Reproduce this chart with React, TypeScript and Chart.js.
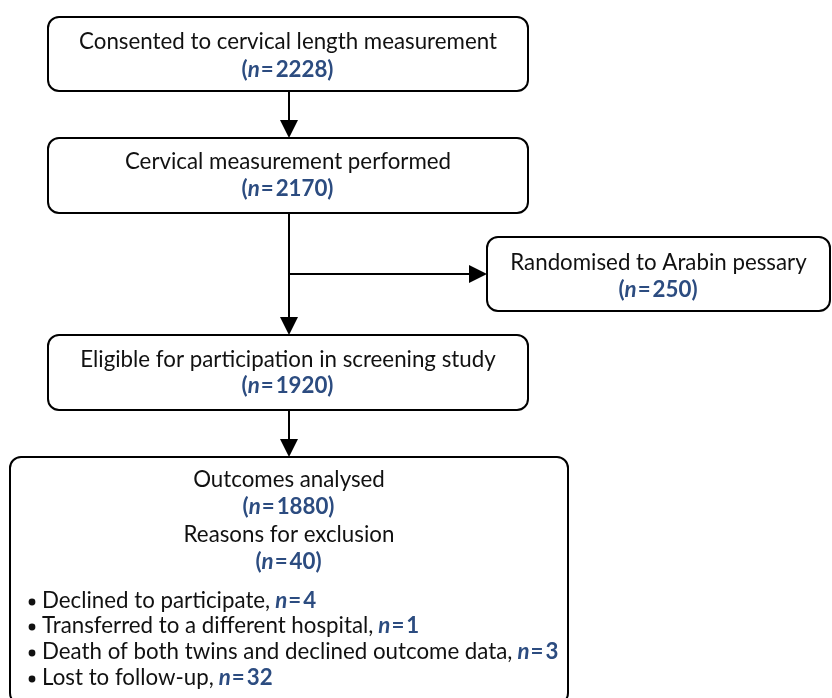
import React, { useEffect, useRef } from "react";
import { Chart, registerables } from "chart.js";

Chart.register(...registerables);

// ---- data ----
const stageLabels = [
  "Consented to cervical length measurement",
  "Cervical measurement performed",
  "Randomised to Arabin pessary",
  "Eligible for participation in screening study",
  "Outcomes analysed",
];
const stageCounts = [2228, 2170, 250, 1920, 1880];
const exclusionTitle = "Reasons for exclusion";
const exclusionTotal = 40;
const exclusionReasons = [
  "Declined to participate,",
  "Transferred to a different hospital,",
  "Death of both twins and declined outcome data,",
  "Lost to follow-up,",
];
const exclusionCounts = [4, 1, 3, 32];

// ---- layout (chart value space = pixels) ----
const W = 832;
const H = 698;
const BOXES = [
  { x0: 48, y0: 17, x1: 528, y1: 91, ty: [42, 70] },
  { x0: 48, y0: 138, x1: 528, y1: 213, ty: [162, 189] },
  { x0: 487, y0: 237, x1: 830, y1: 311, ty: [263, 290] },
  { x0: 48, y0: 335, x1: 528, y1: 410, ty: [360, 386] },
  { x0: 10, y0: 457, x1: 568, y1: 704, ty: [480, 507] },
];
const EXCL_TY = [535, 562];
const BULLET_Y = [601, 626, 652, 678];
const BULLET_X = 32;
const SPINE_X = 289;
const BRANCH_Y = 274;

const BLUE = "#2c4c80";
const FONT = "Lato, 'Open Sans', sans-serif";
const FS = 22.3;

function drawCount(ctx: CanvasRenderingContext2D, n: number, cx: number | null, leftX: number | null, y: number, paren: boolean) {
  const segs: { t: string; f: string; gap?: number }[] = [];
  if (paren) segs.push({ t: "(", f: `bold ${FS}px ${FONT}` });
  segs.push({ t: "n", f: `italic bold ${FS}px ${FONT}` });
  segs.push({ t: "=", f: `bold ${FS}px ${FONT}`, gap: 1 });
  segs.push({ t: String(n) + (paren ? ")" : ""), f: `bold ${FS}px ${FONT}`, gap: 1 });
  let total = 0;
  const widths: number[] = [];
  segs.forEach((s) => {
    ctx.font = s.f;
    const w = ctx.measureText(s.t).width;
    widths.push(w);
    total += w + (s.gap || 0) * 2;
  });
  let x = cx !== null ? cx - total / 2 : (leftX as number);
  ctx.fillStyle = BLUE;
  ctx.textAlign = "left";
  ctx.textBaseline = "middle";
  segs.forEach((s, i) => {
    ctx.font = s.f;
    x += s.gap || 0;
    ctx.fillText(s.t, x, y);
    x += widths[i] + (s.gap || 0);
  });
  return x;
}

function roundRect(ctx: CanvasRenderingContext2D, x0: number, y0: number, x1: number, y1: number, r: number) {
  ctx.beginPath();
  ctx.moveTo(x0 + r, y0);
  ctx.lineTo(x1 - r, y0);
  ctx.arcTo(x1, y0, x1, y0 + r, r);
  ctx.lineTo(x1, y1 - r);
  ctx.arcTo(x1, y1, x1 - r, y1, r);
  ctx.lineTo(x0 + r, y1);
  ctx.arcTo(x0, y1, x0, y1 - r, r);
  ctx.lineTo(x0, y0 + r);
  ctx.arcTo(x0, y0, x0 + r, y0, r);
  ctx.closePath();
  ctx.stroke();
}

const flowPlugin = {
  id: "flow",
  afterDraw(chart: any) {
    const ctx: CanvasRenderingContext2D = chart.ctx;
    const sx = chart.scales.x;
    const sy = chart.scales.y;
    const px = (v: number) => sx.getPixelForValue(v);
    const py = (v: number) => sy.getPixelForValue(v);
    ctx.save();
    ctx.strokeStyle = "#000";
    ctx.lineWidth = 2;

    BOXES.forEach((b, i) => {
      roundRect(ctx, px(b.x0), py(b.y0), px(b.x1), py(b.y1), 11);
      const cx = px((b.x0 + b.x1) / 2);
      ctx.fillStyle = "#111";
      ctx.font = `${FS}px ${FONT}`;
      ctx.textAlign = "center";
      ctx.textBaseline = "middle";
      ctx.fillText(stageLabels[i], cx, py(b.ty[0]));
      drawCount(ctx, stageCounts[i], cx, null, py(b.ty[1]), true);
    });

    const last = BOXES[BOXES.length - 1];
    const lcx = px((last.x0 + last.x1) / 2);
    ctx.fillStyle = "#111";
    ctx.font = `${FS}px ${FONT}`;
    ctx.textAlign = "center";
    ctx.textBaseline = "middle";
    ctx.fillText(exclusionTitle, lcx, py(EXCL_TY[0]));
    drawCount(ctx, exclusionTotal, lcx, null, py(EXCL_TY[1]), true);

    exclusionReasons.forEach((r, i) => {
      const y = py(BULLET_Y[i]);
      ctx.fillStyle = "#111";
      ctx.beginPath();
      ctx.arc(px(BULLET_X), y + 1, 3.4, 0, Math.PI * 2);
      ctx.fill();
      ctx.font = `${FS}px ${FONT}`;
      ctx.textAlign = "left";
      ctx.textBaseline = "middle";
      const tx = px(BULLET_X + 10);
      ctx.fillText(r, tx, y);
      const w = ctx.measureText(r).width;
      drawCount(ctx, exclusionCounts[i], null, tx + w + 5, y, false);
    });

    const arrowDown = (x: number, yA: number, yB: number) => {
      ctx.beginPath();
      ctx.moveTo(px(x), py(yA));
      ctx.lineTo(px(x), py(yB) - 14);
      ctx.stroke();
      ctx.fillStyle = "#000";
      ctx.beginPath();
      ctx.moveTo(px(x), py(yB));
      ctx.lineTo(px(x) - 9, py(yB) - 18);
      ctx.lineTo(px(x) + 9, py(yB) - 18);
      ctx.closePath();
      ctx.fill();
    };
    arrowDown(SPINE_X, BOXES[0].y1, BOXES[1].y0);
    arrowDown(SPINE_X, BOXES[1].y1, BOXES[3].y0);
    arrowDown(SPINE_X, BOXES[3].y1, BOXES[4].y0);

    ctx.beginPath();
    ctx.moveTo(px(SPINE_X), py(BRANCH_Y));
    ctx.lineTo(px(BOXES[2].x0) - 14, py(BRANCH_Y));
    ctx.stroke();
    ctx.fillStyle = "#000";
    ctx.beginPath();
    ctx.moveTo(px(BOXES[2].x0), py(BRANCH_Y));
    ctx.lineTo(px(BOXES[2].x0) - 18, py(BRANCH_Y) - 9);
    ctx.lineTo(px(BOXES[2].x0) - 18, py(BRANCH_Y) + 9);
    ctx.closePath();
    ctx.fill();

    ctx.restore();
  },
};

export default function App() {
  const ref = useRef<HTMLCanvasElement>(null);
  useEffect(() => {
    document.body.style.margin = "0";
    const chart = new Chart(ref.current as HTMLCanvasElement, {
      type: "scatter",
      data: { datasets: [{ data: [], pointRadius: 0 }] },
      options: {
        animation: false,
        responsive: false,
        maintainAspectRatio: false,
        layout: { padding: 0 },
        plugins: { legend: { display: false }, tooltip: { enabled: false } },
        scales: {
          x: { type: "linear", min: 0, max: W, display: false },
          y: { type: "linear", min: 0, max: H, reverse: true, display: false },
        },
      },
      plugins: [flowPlugin],
    });
    return () => chart.destroy();
  }, []);
  return (
    <div style={{ width: W, height: H, background: "#fff" }}>
      <canvas ref={ref} width={W} height={H} style={{ display: "block" }} />
    </div>
  );
}
